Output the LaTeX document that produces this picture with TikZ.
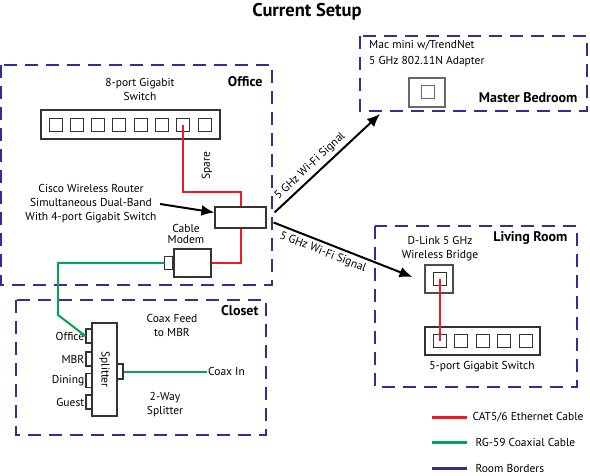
\documentclass[tikz,border=0pt]{standalone}
\usepackage{fontspec}
\setmainfont{PT Sans}
\usetikzlibrary{arrows.meta, positioning}
\definecolor{roomblue}{RGB}{46, 49, 146}
\definecolor{catred}{RGB}{237, 28, 36}
\definecolor{coaxgreen}{RGB}{0, 166, 81}
\definecolor{devgray}{RGB}{105, 105, 105}

\begin{document}
\begin{tikzpicture}[x=1pt, y=-1pt, font=\fontsize{11.5}{13}\selectfont,
  room/.style={draw=roomblue, line width=2.4pt, dash pattern=on 13pt off 8pt},
  roomlabel/.style={font=\fontsize{14}{16}\selectfont\bfseries, anchor=east},
  device/.style={draw=black!80, fill=white, line width=1.1pt, inner sep=0pt},
  port/.style={draw=black!80, fill=white, line width=1pt, minimum size=13pt, inner sep=0pt},
  cat/.style={draw=catred, line width=2pt},
  coax/.style={draw=coaxgreen, line width=2pt},
  signal/.style={line width=2pt, -{Latex[length=13pt, width=11pt]}}]
  \useasboundingbox (0,0) rectangle (590,476);

  % Title
  \node[font=\fontsize{18.5}{20}\selectfont\bfseries] (title) at (307,12) {Current Setup};

  % Rooms
  \draw[room] (1,65) rectangle (272,285);
  \node[roomlabel] (officelbl) at (266,82) {Office};
  \draw[room] (16,300) rectangle (266,435);
  \node[roomlabel] (closetlbl) at (262,311) {Closet};
  \draw[room] (360,36) rectangle (587,111);
  \node[roomlabel] (bedroomlbl) at (581,98) {Master Bedroom};
  \draw[room] (375,226) rectangle (577,387);
  \node[roomlabel] (livinglbl) at (571,238) {Living Room};

  % Office
  \node[align=center, font=\fontsize{11.5}{14}\selectfont] (switch8lbl) at (140,89) {8-port Gigabit\\Switch};
  \node[device, minimum width=179pt, minimum height=29pt] (switch8) at (130.5,124.5) {};
  \foreach \i in {1,...,8}
    \node[port] (sw8p\i) at ({55.5+21.3*(\i-1)},125) {};
  \node[rotate=90] (sparelbl) at (207,166) {Spare};
  \node[align=center, font=\fontsize{11.5}{11.5}\selectfont] (modemlbl) at (186,234) {Cable\\Modem};
  \node[device, minimum width=37pt, minimum height=28pt] (modem) at (192.5,263) {};
  \node[device, minimum width=8pt, minimum height=13pt, anchor=east] (modemport) at (modem.west) {};
  \draw[cat] (sw8p7.center) |- (241,192) -- (241,263) -- (modem.east);
  \node[device, minimum width=51pt, minimum height=21pt] (router) at (240.5,217.5) {};
  \node[align=center, font=\fontsize{11.5}{14}\selectfont] (routerlbl) at (91,204)
    {Cisco Wireless Router\\Simultaneous Dual-Band\\With 4-port Gigabit Switch};
  \draw[signal] (routerlbl.east) -- ([yshift=5pt]router.west);

  % Closet
  \node[device, minimum width=25pt, minimum height=93pt] (splitter) at (104.5,369.5) {};
  \node[rotate=-90] (splitterlbl) at (splitter) {Splitter};
  \foreach \y/\n/\t in {336/1/Office, 359/2/MBR, 380.5/3/Dining, 402/4/Guest} {
    \node[device, minimum width=6pt, minimum height=14pt] (sp\n) at (89,\y) {};
    \node[anchor=east, inner sep=1pt] (sp\n lbl) at (sp\n.west) {\t};
  }
  \node[device, minimum width=6pt, minimum height=15pt] (spin) at (120,371.5) {};
  \node[anchor=west, inner sep=1pt] (coaxin) at (207,371.5) {Coax In};
  \node[align=center, font=\fontsize{11.5}{14}\selectfont] (feedlbl) at (172,325) {Coax Feed\\to MBR};
  \node[align=center, font=\fontsize{11.5}{14}\selectfont] (waylbl) at (165,405) {2-Way\\Splitter};
  \draw[coax] (modemport.west) -| (58,315) -- (sp1.west);
  \draw[coax] (spin.east) -- (coaxin.west);

  % Master Bedroom
  \node[anchor=west, align=left, font=\fontsize{11.5}{16}\selectfont, inner sep=0pt] (maclbl) at (369,54)
    {Mac mini w/TrendNet\\5 GHz 802.11N Adapter};
  \node[device, draw=devgray, minimum width=36pt, minimum height=29pt] (mac) at (427,92.5) {};
  \node[port, draw=devgray] (macport) at (428,92.5) {};

  % Living Room
  \node[align=center, font=\fontsize{11.5}{14}\selectfont] (bridgelbl) at (440,249) {D-Link 5 GHz\\Wireless Bridge};
  \node[device, draw=black!70, minimum width=28pt, minimum height=28pt] (bridge) at (439,279) {};
  \node[port] (bport) at (439.5,279) {};
  \node[device, minimum width=115pt, minimum height=28pt] (switch5) at (482.5,341) {};
  \foreach \i in {1,...,5}
    \node[port] (sw5p\i) at ({439.5+21.6*(\i-1)},341) {};
  \node (switch5lbl) at (482,367) {5-port Gigabit Switch};
  \draw[cat] (bport.center) -- (sw5p1.center);

  % Wi-Fi
  \draw[signal] ([xshift=8pt, yshift=5pt]router.east) -- (380,114)
    node[pos=0.4, sloped, above] (wifi1lbl) {5 GHz Wi-Fi Signal};
  \draw[signal] ([xshift=7pt, yshift=-5pt]router.east) -- ([xshift=-12pt, yshift=2pt]bridge.west)
    node[pos=0.38, sloped, below] (wifi2lbl) {5 GHz Wi-Fi Signal};

  % Legend
  \draw[catred, line width=3pt] (432,417) -- (467,417);
  \node[anchor=west] (legcat) at (469,417) {CAT5/6 Ethernet Cable};
  \draw[coaxgreen, line width=3pt] (432,442) -- (467,442);
  \node[anchor=west] (legcoax) at (472,442) {RG-59 Coaxial Cable};
  \draw[roomblue, line width=3pt] (432,468) -- (467,468);
  \node[anchor=west] (legroom) at (472,468) {Room Borders};
\end{tikzpicture}
\end{document}
